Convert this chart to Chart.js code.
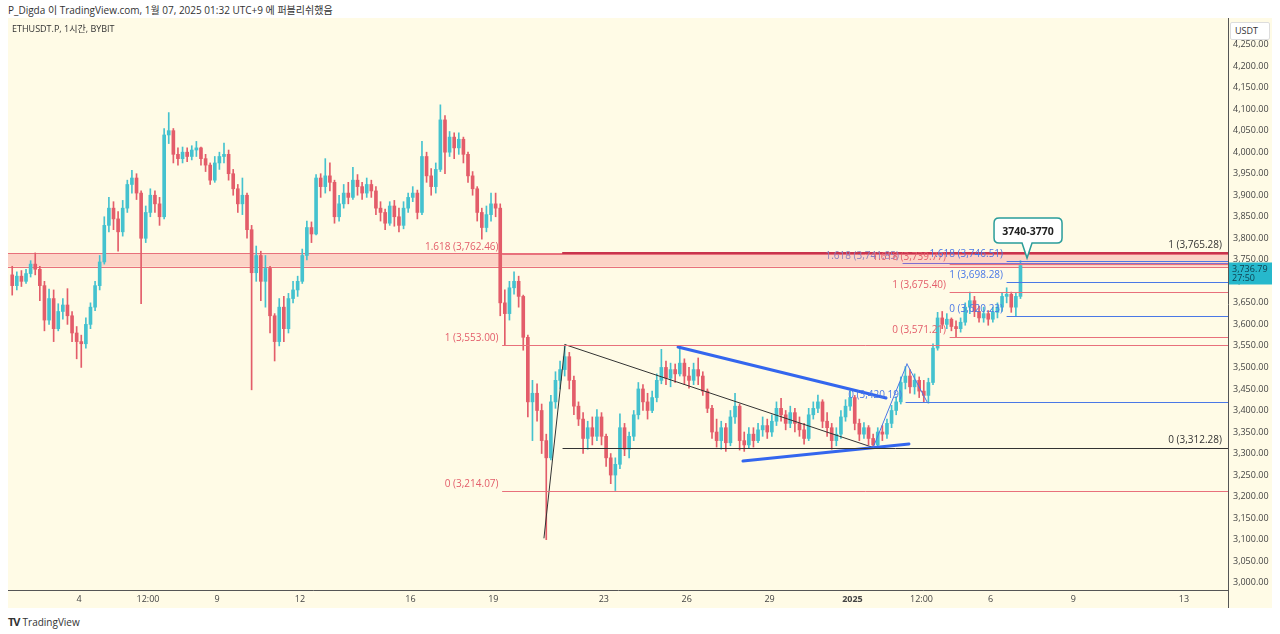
<!DOCTYPE html>
<html>
<head>
<meta charset="utf-8">
<script src="https://cdn.jsdelivr.net/npm/chart.js@4.4.1/dist/chart.umd.min.js"></script>
<style>
  html, body { margin: 0; padding: 0; background: #fff; }
  body { width: 1280px; height: 634px; position: relative; overflow: hidden;
         font-family: "Open Sans", "Noto Sans CJK KR", sans-serif; color: #333; }
  #head { position: absolute; left: 8px; top: 2px; font-size: 10px; color: #333; white-space: nowrap; }
  #box { position: absolute; left: 8px; top: 18px; width: 1264px; height: 590px; background: #fffbe6; }
  #chart { position: absolute; left: 0; top: 0; }
  #sym { position: absolute; left: 4px; top: 4px; font-size: 9px; color: #333; }
  #unit { position: absolute; left: 1222px; top: 4px; width: 40px; height: 18px; box-sizing: border-box;
          background: #fff; border: 1px solid #ddd; border-radius: 2px; font-size: 9px; line-height: 16px; padding-left: 4px; color: #333; }
  #foot { position: absolute; left: 8px; top: 614px; font-size: 10px; color: #333; white-space: nowrap; }
  #foot b { font-size: 11px; letter-spacing: -1px; margin-right: 3px; }
</style>
</head>
<body>
<div id="head">P_Digda 이 TradingView.com, 1월 07, 2025 01:32 UTC+9 에 퍼블리쉬했음</div>
<div id="box">
  <canvas id="chart" width="1264" height="590"></canvas>
  <div id="sym">ETHUSDT.P, 1시간, BYBIT</div>
  <div id="unit">USDT</div>
</div>
<div id="foot"><b>TV</b>TradingView</div>

<script>
/* ================= DATA ================= */
// 4h candles, time in hours since Dec 1 00:00 (UTC+9)
const firstHour = 12;
const stepHours = 4;
const firstOpen = 3715;

const closes = [
  3690, 3712, 3700,
  3718, 3740, 3728, 3690, 3610, 3660,
  3590, 3630, 3645, 3620, 3580, 3560,
  3555, 3600, 3640, 3690, 3745, 3830,
  3870, 3845, 3815, 3870, 3925, 3940,
  3905, 3800, 3860, 3900, 3880, 3850,
  4040, 4050, 3995, 3985, 4000, 3990,
  4005, 4010, 3985, 3970, 3935, 3975,
  3990, 3995, 3950, 3915, 3880, 3900,
  3820, 3720, 3760, 3700, 3730, 3620,
  3560, 3640, 3590, 3660, 3680, 3700,
  3760, 3825, 3810, 3940, 3920, 3945,
  3930, 3850, 3880, 3905, 3895, 3935,
  3920, 3905, 3925, 3910, 3870, 3860,
  3835, 3875, 3850, 3830, 3870, 3895,
  3905, 3860, 3990, 3945, 3920, 3960,
  4075, 4000, 4035, 4010, 4030, 3995,
  3945, 3915, 3860, 3825, 3855, 3880,
  3870, 3650, 3625, 3685, 3700, 3665,
  3570, 3420, 3440, 3400, 3330, 3290,
  3420, 3470, 3495, 3525, 3470, 3410,
  3380, 3335, 3360, 3340, 3385, 3340,
  3290, 3250, 3275, 3360, 3310, 3340,
  3390, 3450, 3420, 3400, 3430, 3470,
  3500, 3475, 3495, 3485, 3510, 3480,
  3470, 3495, 3480, 3445, 3405, 3350,
  3330, 3360, 3325, 3385, 3410, 3330,
  3320, 3345, 3330, 3355, 3365, 3350,
  3375, 3405, 3390, 3370, 3395, 3370,
  3355, 3335, 3390, 3405, 3420, 3375,
  3360, 3330, 3345, 3385, 3410, 3430,
  3370, 3345, 3360, 3335, 3320, 3350,
  3345, 3370, 3400, 3420, 3465, 3480,
  3455, 3470, 3445, 3435, 3465, 3545,
  3615, 3600, 3612, 3595, 3590, 3605,
  3640, 3655, 3630, 3615, 3625, 3612,
  3628, 3640, 3665, 3670, 3640, 3665,
  3736.79
];

const highs = [
  3735, 3722, 3725,
  3728, 3748, 3766, 3735, 3700, 3682,
  3680, 3648, 3660, 3683, 3630, 3595,
  3575, 3615, 3650, 3700, 3760, 3850,
  3895, 3885, 3862, 3888, 3935, 3958,
  3950, 3910, 3875, 3915, 3910, 3895,
  4055, 4092, 4055, 4010, 4012, 4010,
  4015, 4025, 4012, 3995, 3975, 3990,
  4000, 4021, 4005, 3960, 3925, 3940,
  3905, 3830, 3782, 3770, 3760, 3735,
  3625, 3660, 3665, 3672, 3700, 3712,
  3775, 3840, 3838, 3948, 3950, 3985,
  3975, 3935, 3900, 3925, 3930, 3965,
  3948, 3930, 3940, 3935, 3920, 3885,
  3868, 3885, 3888, 3870, 3885, 3905,
  3920, 3912, 4025, 4000, 3962, 3975,
  4110, 4085, 4048, 4045, 4045, 4035,
  4000, 3955, 3920, 3870, 3875, 3905,
  3905, 3880, 3680, 3700, 3722, 3712,
  3668, 3575, 3470, 3462, 3415, 3345,
  3435, 3490, 3515, 3550, 3535, 3480,
  3420, 3395, 3375, 3385, 3402, 3395,
  3345, 3300, 3290, 3392, 3370, 3350,
  3400, 3465, 3460, 3440, 3445, 3485,
  3542, 3515, 3510, 3508, 3545, 3520,
  3500, 3510, 3522, 3490, 3450, 3412,
  3380, 3375, 3370, 3400, 3440, 3415,
  3350, 3360, 3360, 3370, 3385, 3380,
  3390, 3420, 3428, 3400, 3410, 3405,
  3385, 3370, 3405, 3420, 3436, 3425,
  3395, 3370, 3360, 3400, 3425, 3445,
  3435, 3380, 3372, 3365, 3345, 3360,
  3365, 3380, 3412, 3432, 3478, 3502,
  3495, 3485, 3478, 3470, 3475, 3555,
  3628, 3630, 3625, 3615, 3608, 3615,
  3650, 3675, 3665, 3642, 3640, 3632,
  3640, 3650, 3672, 3685, 3675, 3672,
  3748
];

const lows = [
  3668, 3680, 3688,
  3695, 3710, 3715, 3655, 3585, 3600,
  3560, 3585, 3612, 3600, 3560, 3520,
  3500, 3545, 3590, 3632, 3680, 3740,
  3815, 3820, 3770, 3805, 3860, 3905,
  3890, 3648, 3790, 3850, 3860, 3830,
  3845, 4020, 3975, 3970, 3975, 3978,
  3982, 3990, 3970, 3955, 3925, 3930,
  3960, 3975, 3935, 3900, 3860, 3855,
  3800, 3448, 3700, 3655, 3640, 3580,
  3515, 3550, 3560, 3580, 3650, 3665,
  3695, 3750, 3790, 3808, 3895, 3905,
  3910, 3835, 3840, 3870, 3880, 3890,
  3900, 3890, 3895, 3895, 3855, 3840,
  3820, 3830, 3828, 3815, 3822, 3860,
  3885, 3845, 3855, 3930, 3900, 3905,
  3955, 3950, 3990, 3985, 3995, 3975,
  3930, 3900, 3840, 3798, 3815, 3840,
  3850, 3620, 3553, 3610, 3670, 3640,
  3540, 3385, 3330, 3375, 3300, 3100,
  3285, 3405, 3450, 3480, 3450, 3390,
  3365, 3300, 3310, 3320, 3330, 3320,
  3270, 3230, 3214, 3265, 3295, 3290,
  3330, 3380, 3400, 3380, 3395, 3420,
  3462, 3460, 3455, 3465, 3480, 3460,
  3452, 3460, 3460, 3435, 3395, 3335,
  3315, 3310, 3305, 3318, 3370, 3308,
  3305, 3312, 3315, 3325, 3340, 3335,
  3340, 3365, 3375, 3355, 3360, 3350,
  3340, 3322, 3330, 3380, 3395, 3360,
  3340, 3310, 3318, 3335, 3375, 3400,
  3355, 3330, 3335, 3320, 3312, 3315,
  3330, 3335, 3360, 3390, 3415, 3450,
  3440, 3438, 3430, 3420, 3417, 3460,
  3540, 3590, 3590, 3585, 3571, 3582,
  3598, 3625, 3618, 3605, 3605, 3598,
  3605, 3615, 3630, 3650, 3628, 3620,
  3660
];

// x axis tick labels and where they sit (hours since Dec 1 00:00)
const xTickHours = [72, 132, 192, 264, 360, 432, 528, 600, 672, 744, 804, 864, 936, 1032];
const xTickLabels = ['4', '12:00', '9', '12', '16', '19', '23', '26', '29', '2025', '12:00', '6', '9', '13'];

// highest price label shown on the axis
const yTickTop = 4250;

/* ================= DRAWINGS (hour, price) ================= */
const bandTop = 3765;
const bandBottom = 3734;

// start hour, price, label, style, label side
const hLevels = [
  [440, 3762.46, '1.618 (3,762.46)', 'red', 'left'],
  [440, 3553.00, '1 (3,553.00)', 'red', 'left'],
  [440, 3214.07, '0 (3,214.07)', 'red', 'left'],
  [492.5, 3765.28, '1 (3,765.28)', 'darkred', 'right'],
  [492.5, 3312.28, '0 (3,312.28)', 'black', 'right'],
  [790.5, 3420.19, '0 (3,420.19)', 'blue', 'left'],
  [787.9, 3741.85, '1.618 (3,741.85)', 'purple', 'left'],
  [828.8, 3739.77, '1.618 (3,739.77)', 'red', 'left'],
  [828.8, 3675.40, '1 (3,675.40)', 'red', 'left'],
  [828.8, 3571.21, '0 (3,571.21)', 'red', 'left'],
  [878.3, 3746.51, '1.618 (3,746.51)', 'blue', 'left'],
  [878.3, 3698.28, '1 (3,698.28)', 'blue', 'left'],
  [878.3, 3620.23, '0 (3,620.23)', 'blue', 'left']
];

// h1, p1, h2, p2, style
const trendLines = [
  [476, 3104, 494.3, 3553, 'black'],
  [494.3, 3553, 762, 3314, 'black'],
  [592.5, 3547.5, 773.2, 3429, 'blueThick'],
  [648.9, 3282.7, 793.1, 3322.2, 'blueThick'],
  [762, 3314, 791.4, 3508, 'blue'],
  [791.4, 3508, 808.8, 3420.19, 'blue']
];

const calloutText = '3740-3770';
const calloutHour = 895.7;
const calloutPrice = 3754;

const countdown = '27:50';

/* ================= STYLES ================= */
const UP = '#45c2cf';
const DOWN = '#e35d6a';
const FONT = '"Open Sans", "Noto Sans CJK KR", sans-serif';

const styles = {
  red: { line: '#e8707b', width: 1, text: '#e35d6a' },
  darkred: { line: '#c8334c', width: 2, text: '#333' },
  black: { line: '#333', width: 1, text: '#333' },
  blue: { line: '#4a78e6', width: 1, text: '#4a78e6' },
  blueThick: { line: '#3366ee', width: 3, text: '#3366ee' },
  purple: { line: '#7e6fd0', width: 1, text: '#8a7fc0' }
};

/* ================= CANDLES ================= */
const candleX = closes.map((c, i) => firstHour + i * stepHours + stepHours / 2);
const opens = [firstOpen, ...closes.slice(0, -1)];
const colors = closes.map((c, i) => (c >= opens[i] ? UP : DOWN));

/* ================= DRAWING PLUGIN ================= */
const drawings = {
  id: 'drawings',
  beforeDatasetsDraw(chart) {
    const { ctx, chartArea: a, scales } = chart;
    const y1 = scales.y.getPixelForValue(bandTop);
    const y2 = scales.y.getPixelForValue(bandBottom);
    ctx.save();
    ctx.fillStyle = 'rgba(242, 54, 69, 0.2)';
    ctx.fillRect(a.left, y1, a.right - a.left, y2 - y1);
    ctx.strokeStyle = '#e8707b';
    ctx.lineWidth = 1;
    ctx.beginPath();
    ctx.moveTo(a.left, Math.round(y1) + 0.5); ctx.lineTo(a.right, Math.round(y1) + 0.5);
    ctx.moveTo(a.left, Math.round(y2) + 0.5); ctx.lineTo(a.right, Math.round(y2) + 0.5);
    ctx.stroke();
    ctx.restore();
  },
  afterDatasetsDraw(chart) {
    const { ctx, chartArea: a, scales } = chart;
    const X = v => scales.x.getPixelForValue(v);
    const Y = v => scales.y.getPixelForValue(v);
    ctx.save();
    ctx.beginPath();
    ctx.rect(a.left, a.top, a.right - a.left, a.bottom - a.top);
    ctx.clip();

    trendLines.forEach(([h1, p1, h2, p2, s]) => {
      ctx.strokeStyle = styles[s].line;
      ctx.lineWidth = styles[s].width;
      ctx.lineCap = 'round';
      ctx.beginPath();
      ctx.moveTo(X(h1), Y(p1));
      ctx.lineTo(X(h2), Y(p2));
      ctx.stroke();
    });

    ctx.font = '10px ' + FONT;
    ctx.textBaseline = 'bottom';
    hLevels.forEach(([h, p, label, s, side]) => {
      const st = styles[s];
      const x = X(h);
      const y = Math.round(Y(p)) + (st.width % 2 ? 0.5 : 0);
      ctx.strokeStyle = st.line;
      ctx.lineWidth = st.width;
      ctx.beginPath();
      ctx.moveTo(x, y);
      ctx.lineTo(a.right, y);
      ctx.stroke();
      ctx.fillStyle = st.text;
      ctx.textAlign = 'right';
      if (side === 'left') ctx.fillText(label, x - 4, y - 2);
      else ctx.fillText(label, a.right - 6, y - 3);
    });
    ctx.restore();
  },
  afterDraw(chart) {
    const { ctx, chartArea: a, scales } = chart;
    const X = v => scales.x.getPixelForValue(v);
    const Y = v => scales.y.getPixelForValue(v);

    // callout box
    const tx = X(calloutHour), ty = Y(calloutPrice);
    const bw = 68, bh = 25, bx = tx - 33, by = ty - 40;
    ctx.save();
    ctx.fillStyle = '#fff';
    ctx.strokeStyle = '#2a9d9a';
    ctx.lineWidth = 1.5;
    ctx.beginPath();
    ctx.moveTo(bx + 5, by);
    ctx.lineTo(bx + bw - 5, by);
    ctx.quadraticCurveTo(bx + bw, by, bx + bw, by + 5);
    ctx.lineTo(bx + bw, by + bh - 5);
    ctx.quadraticCurveTo(bx + bw, by + bh, bx + bw - 5, by + bh);
    ctx.lineTo(tx + 5, by + bh);
    ctx.lineTo(tx, ty);
    ctx.lineTo(tx - 5, by + bh);
    ctx.lineTo(bx + 5, by + bh);
    ctx.quadraticCurveTo(bx, by + bh, bx, by + bh - 5);
    ctx.lineTo(bx, by + 5);
    ctx.quadraticCurveTo(bx, by, bx + 5, by);
    ctx.closePath();
    ctx.fill();
    ctx.stroke();
    ctx.fillStyle = '#222';
    ctx.font = 'bold 10.5px ' + FONT;
    ctx.textAlign = 'center';
    ctx.textBaseline = 'middle';
    ctx.fillText(calloutText, bx + bw / 2, by + bh / 2 + 1);

    // last price tag on the axis
    const last = closes[closes.length - 1];
    const py = Y(last);
    ctx.fillStyle = '#26b8cc';
    ctx.fillRect(a.right + 1, py - 3, chart.width - a.right - 1, 22);
    ctx.fillStyle = '#0f3d4c';
    ctx.font = '9px ' + FONT;
    ctx.textAlign = 'left';
    ctx.fillText(last.toLocaleString('en-US', { minimumFractionDigits: 2 }), a.right + 4, py + 4);
    ctx.fillText(countdown, a.right + 4, py + 13);

    // axis divider through the time strip
    ctx.strokeStyle = '#555';
    ctx.lineWidth = 1;
    ctx.beginPath();
    ctx.moveTo(a.right + 0.5, a.bottom);
    ctx.lineTo(a.right + 0.5, chart.height);
    ctx.stroke();
    ctx.restore();
  }
};

/* ================= CHART ================= */
new Chart(document.getElementById('chart'), {
  type: 'bar',
  data: {
    datasets: [
      {
        data: candleX.map((x, i) => ({ x, y: [lows[i], highs[i]] })),
        backgroundColor: colors,
        barThickness: 1,
        grouped: false
      },
      {
        data: candleX.map((x, i) => ({ x, y: [opens[i], closes[i]] })),
        backgroundColor: colors,
        barThickness: 3,
        minBarLength: 1,
        grouped: false
      }
    ]
  },
  options: {
    responsive: false,
    animation: false,
    devicePixelRatio: 1,
    layout: { padding: 0 },
    plugins: { legend: { display: false }, tooltip: { enabled: false } },
    scales: {
      x: {
        type: 'linear',
        min: 10.34,
        max: 1070.3,
        offset: false,
        grid: { display: false, drawTicks: false },
        border: { display: true, color: '#555' },
        afterBuildTicks: s => { s.ticks = xTickHours.map(v => ({ value: v })); },
        afterFit: s => { s.height = 18; s.paddingLeft = 0; s.paddingRight = 0; },
        ticks: {
          autoSkip: false,
          maxRotation: 0,
          padding: 4,
          color: '#444',
          font: c => ({ family: FONT, size: 9, weight: xTickLabels[c.index] === '2025' ? 'bold' : 'normal' }),
          callback: (v, i) => xTickLabels[i]
        }
      },
      y: {
        position: 'right',
        min: 2983,
        max: 4311.7,
        grid: { display: false, drawTicks: false },
        border: { display: true, color: '#555' },
        afterFit: s => { s.width = 44; s.paddingTop = 0; s.paddingBottom = 0; },
        ticks: {
          stepSize: 50,
          includeBounds: false,
          padding: 5,
          color: '#444',
          font: { family: FONT, size: 9 },
          callback: v => (v > yTickTop ? null
            : v.toLocaleString('en-US', { minimumFractionDigits: 2, maximumFractionDigits: 2 }))
        }
      }
    }
  },
  plugins: [drawings]
});
</script>
</body>
</html>
